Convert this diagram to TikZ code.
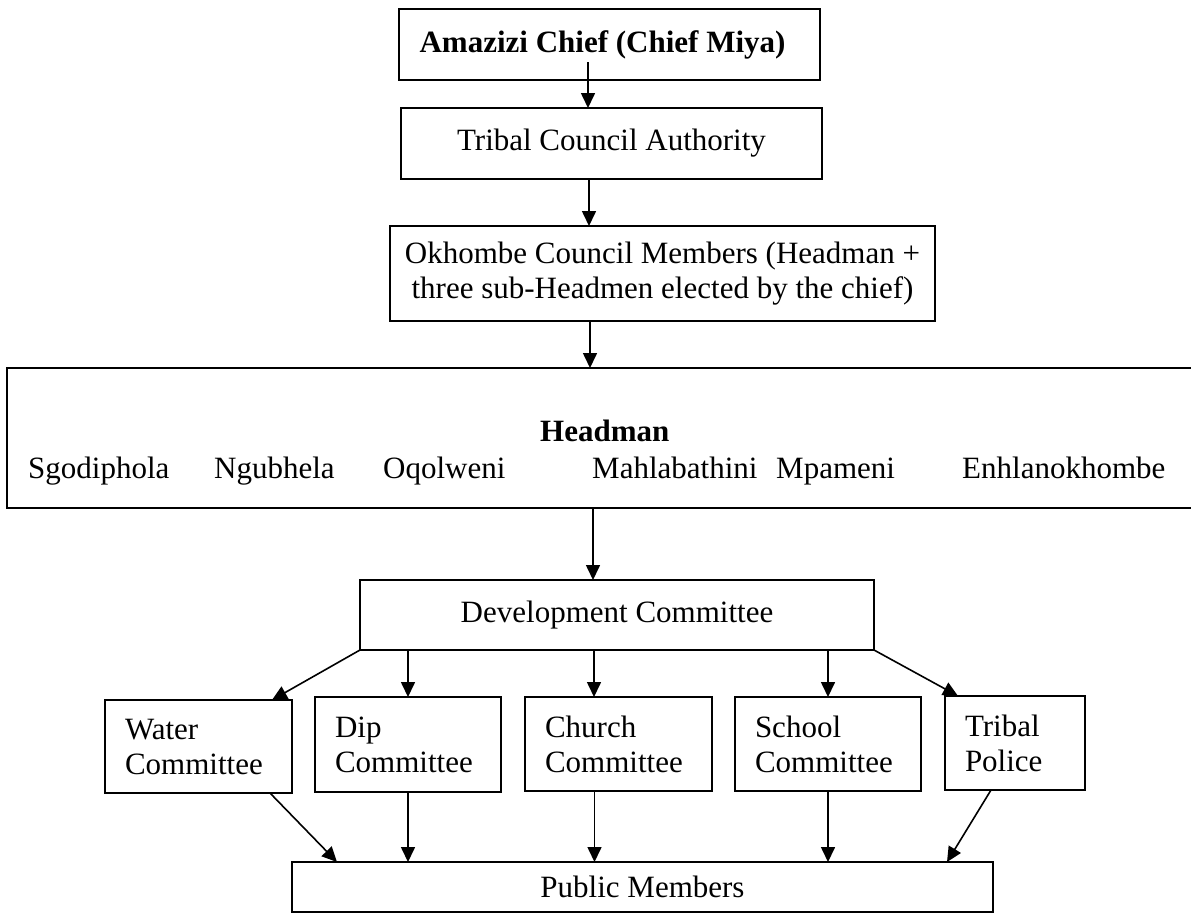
\documentclass[tikz,border=0pt]{standalone}
\usepackage{fontspec}
\setmainfont{Liberation Serif}
\usetikzlibrary{arrows.meta,calc}
\begin{document}
\begin{tikzpicture}[x=1pt,y=-1pt,
  every node/.style={font=\fontsize{31}{35}\selectfont},
  box/.style={draw, line width=1.8pt, inner sep=0pt, outer sep=0pt},
  cbox/.style={box, align=left, inner xsep=20pt, inner ysep=0pt},
  arr/.style={line width=1.6pt, -{Triangle[length=15pt,width=14pt]}},
  lbl/.style={inner sep=0pt, anchor=base west}]
\useasboundingbox (0,0) rectangle (1191,914);

% top chain
\node[box, minimum width=421pt, minimum height=71pt] (chief) at (609.5,44.5) {\textbf{Amazizi Chief (Chief Miya)}\hspace*{14pt}};
\node[box, minimum width=421pt, minimum height=71pt] (tca) at (611.5,143.5) {Tribal Council Authority};
\node[box, align=center, minimum width=545pt, minimum height=95pt] (okh) at (662.5,273.5) {Okhombe Council Members (Headman +\\three sub-Headmen elected by the chief)};

% headman box
\node[box, minimum width=1189pt, minimum height=140pt] (head) at (601.5,438) {};
\node[lbl] (hm) at (540,441) {\textbf{Headman}};
\node[lbl] (n1) at (28,478) {Sgodiphola};
\node[lbl] (n2) at (214,478) {Ngubhela};
\node[lbl] (n3) at (383,478) {Oqolweni};
\node[lbl] (n4) at (592,478) {Mahlabathini};
\node[lbl] (n5) at (776,478) {Mpameni};
\node[lbl] (n6) at (962,478) {Enhlanokhombe};

% development committee
\node[box, minimum width=514pt, minimum height=70pt] (dev) at (617,615) {Development Committee};

% committees
\node[cbox, text width=147pt, minimum height=93pt] (water) at (198.5,746.5) {Water\\Committee};
\node[cbox, text width=146pt, minimum height=95pt] (dip) at (408,744.5) {Dip\\Committee};
\node[cbox, text width=147pt, minimum height=94pt] (church) at (618.5,744) {Church\\Committee};
\node[cbox, text width=146pt, minimum height=94pt] (school) at (828,744) {School\\Committee};
\node[cbox, text width=100pt, minimum height=94pt] (tribal) at (1015,743) {Tribal\\Police};

% public
\node[box, minimum width=701pt, minimum height=50pt] (pub) at (642.5,887) {Public Members};

% connectors
\coordinate (a1) at ($(chief.south)+(-21.5,-18)$);
\draw[arr] (a1) -- (a1 |- tca.north);
\coordinate (a2) at ($(tca.south)+(-22.5,0)$);
\draw[arr] (a2) -- (a2 |- okh.north);
\coordinate (a3) at ($(okh.south)+(-72.5,0)$);
\draw[arr] (a3) -- (a3 |- head.north);
\coordinate (a4) at ($(dev.north)+(-24,0)$);
\draw[arr] (a4 |- head.south) -- (a4);

\draw[arr] (dev.south west) -- ($(water.north east)+(-20,0)$);
\draw[arr] (dip.north |- dev.south) -- (dip.north);
\coordinate (c1) at ($(church.north)+(-24.5,0)$);
\draw[arr] (c1 |- dev.south) -- (c1);
\draw[arr] (school.north |- dev.south) -- (school.north);
\draw[arr] (dev.south east) -- ($(tribal.north west)+(13,0)$);

\draw[arr] ($(water.south east)+(-22,0)$) -- ($(pub.north west)+(45,0)$);
\draw[arr] (dip.south) -- (dip.south |- pub.north);
\coordinate (c2) at ($(church.south)+(-24,0)$);
\draw[arr] (c2) -- (c2 |- pub.north);
\draw[arr] (school.south) -- (school.south |- pub.north);
\draw[arr] ($(tribal.south west)+(46,0)$) -- ($(pub.north east)+(-46,0)$);
\end{tikzpicture}
\end{document}
